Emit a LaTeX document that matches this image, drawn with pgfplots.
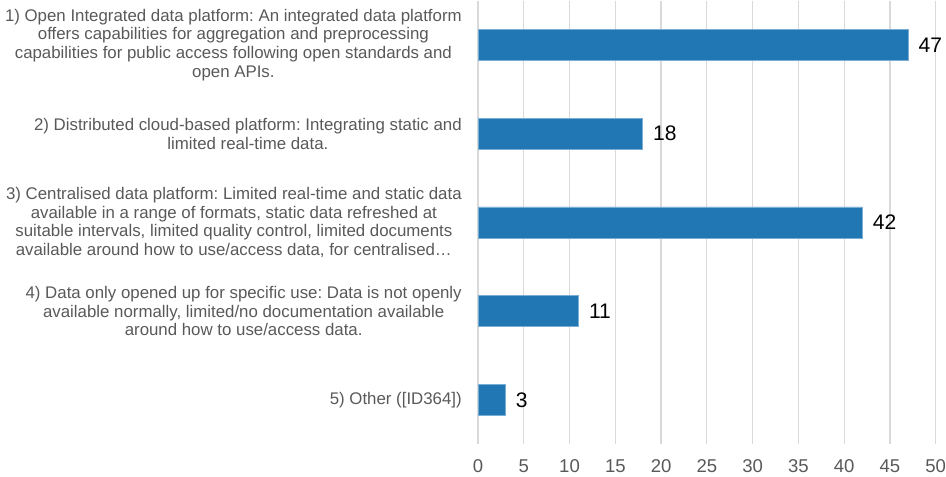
\documentclass[border={5bp 4bp 0pt 0pt}]{standalone}
\usepackage{fontspec}
\setmainfont{Liberation Sans}
\usepackage{pgfplots}
\pgfplotsset{compat=1.18}
\definecolor{barblue}{RGB}{32,119,180}
\definecolor{txtgray}{RGB}{89,89,89}
\definecolor{gridgray}{RGB}{217,217,217}
\frenchspacing
\begin{document}
\begin{tikzpicture}
\begin{axis}[
    xbar,
    scale only axis,
    width=455bp, height=441bp,
    xmin=0, xmax=50,
    ymin=0.5, ymax=5.5,
    y dir=reverse,
    bar width=31bp,
    xtick={0,5,...,50},
    ytick={1,2,3,4,5},
    yticklabels={
      {1) Open Integrated data platform: An integrated data platform\\offers capabilities for aggregation and preprocessing\\capabilities for public access following open standards and\\open APIs.},
      {2) Distributed cloud-based platform: Integrating static and\\limited real-time data.},
      {3) Centralised data platform: Limited real-time and static data\\available in a range of formats, static data refreshed at\\suitable intervals, limited quality control, limited documents\\available around how to use/access data, for centralised…},
      {4) Data only opened up for specific use: Data is not openly\\available normally, limited/no documentation available\\around how to use/access data.},
      {5) Other ([ID364])}
    },
    yticklabel style={align=center, anchor=east, inner sep=0pt, xshift=-16bp,
      font=\fontsize{16.8}{18.6}\selectfont, text=txtgray},
    xticklabel style={inner sep=0pt, yshift=-15bp, font=\fontsize{18.5}{20}\selectfont, text=txtgray},
    /pgf/number format/assume math mode=true,
    major tick length=0pt,
    axis line style={draw=none},
    xmajorgrids,
    grid style={gridgray, line width=1.2pt},
    nodes near coords,
    nodes near coords style={anchor=west, inner sep=0pt, xshift=10bp,
      font=\fontsize{21}{24}\selectfont, text=black},
]
\addplot[fill=barblue, draw=barblue!60!white, line width=0.6pt]
  coordinates {(47,1) (18,2) (42,3) (11,4) (3,5)};
\end{axis}
\end{tikzpicture}
\end{document}
